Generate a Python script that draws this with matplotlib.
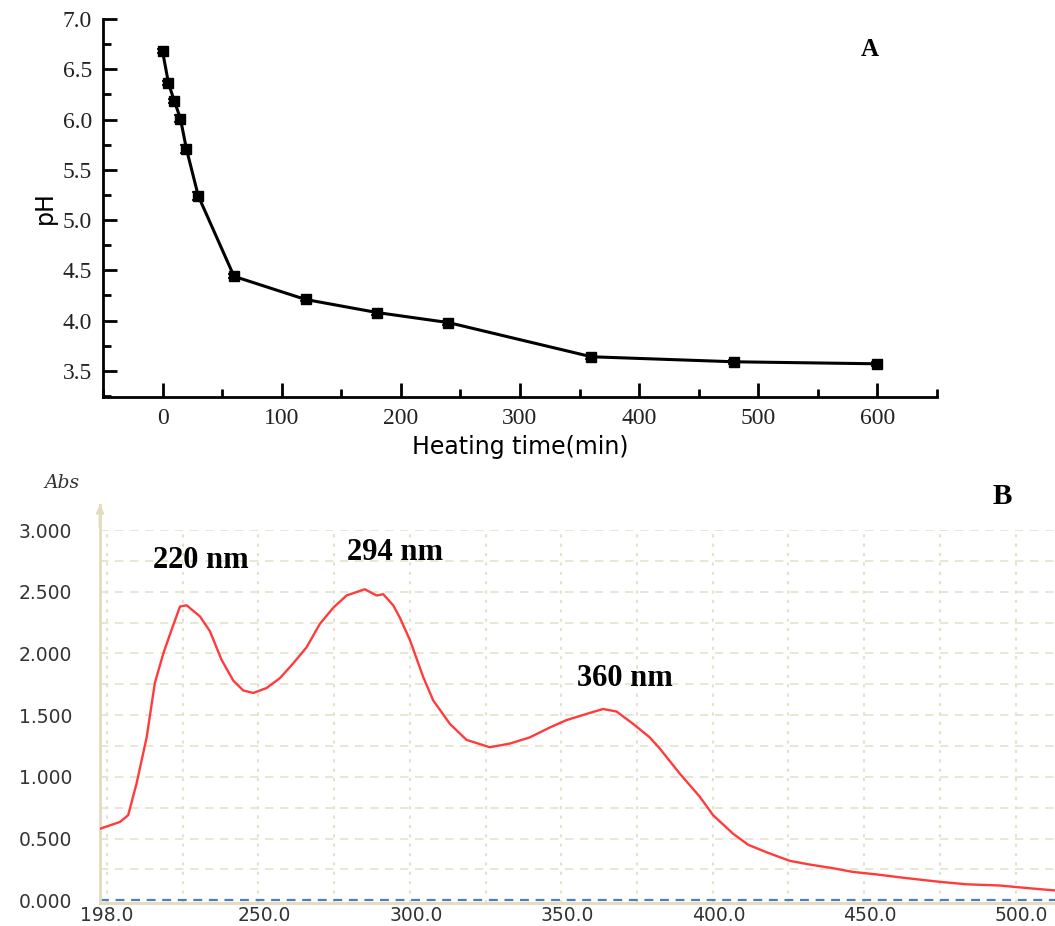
import matplotlib
matplotlib.use("Agg")
import matplotlib.pyplot as plt
from matplotlib.ticker import FixedLocator, MultipleLocator

# panel A: pH vs heating time
heat_time = [0, 5, 10, 15, 20, 30, 60, 120, 180, 240, 360, 480, 600]
ph_value = [6.68, 6.36, 6.18, 6.01, 5.71, 5.24, 4.44, 4.21, 4.08, 3.98, 3.64, 3.59, 3.57]
ph_err = [0.02, 0.02, 0.02, 0.03, 0.04, 0.04, 0.02, 0.02, 0.02, 0.02, 0.02, 0.02, 0.02]

# panel B: UV-vis spectrum
wavelength = [195.7, 202.3, 205.0, 207.8, 211.1, 213.8, 216.6, 219.3, 222.1, 224.3,
              228.7, 232.0, 235.8, 239.7, 243.0, 246.3, 250.7, 255.1, 259.5, 263.9,
              268.3, 272.7, 277.1, 283.1, 287.0, 289.2, 292.5, 294.7, 298.0, 302.4,
              305.7, 311.2, 316.7, 324.4, 331.0, 337.6, 344.2, 349.7, 356.3, 361.8,
              366.2, 371.7, 377.2, 380.5, 387.0, 393.7, 398.1, 404.7, 409.7, 415.7,
              423.4, 430.0, 437.7, 444.3, 452.0, 461.9, 472.9, 481.7, 492.7, 501.5, 511.0]
absorb = [0.58, 0.635, 0.69, 0.95, 1.32, 1.76, 2.00, 2.19, 2.38, 2.39,
          2.30, 2.18, 1.95, 1.78, 1.70, 1.68, 1.72, 1.80, 1.92, 2.05,
          2.24, 2.37, 2.47, 2.52, 2.47, 2.48, 2.39, 2.29, 2.11, 1.81,
          1.62, 1.43, 1.30, 1.24, 1.27, 1.32, 1.40, 1.46, 1.51, 1.55,
          1.53, 1.43, 1.32, 1.23, 1.03, 0.84, 0.69, 0.54, 0.45, 0.39,
          0.32, 0.29, 0.26, 0.23, 0.21, 0.18, 0.15, 0.13, 0.12, 0.10, 0.08]
peak_labels = ["220 nm", "294 nm", "360 nm"]
peak_pos = [(229, 2.75), (293, 2.82), (369, 1.80)]
b_xticks = [198, 250, 300, 350, 400, 450, 500]

fig = plt.figure(figsize=(10.55, 9.26), dpi=100)

# ---- top panel
ax = fig.add_axes([0.0976, 0.5713, 0.7905, 0.4082])
ax.errorbar(heat_time, ph_value, yerr=ph_err, color="black", lw=2.2, marker="s",
            ms=7, capsize=4, elinewidth=1.2, capthick=1.2)
ax.set_xlim(-50, 650)
ax.set_ylim(3.24, 7.0)
ax.xaxis.set_major_locator(MultipleLocator(100))
ax.xaxis.set_minor_locator(MultipleLocator(50))
ax.yaxis.set_major_locator(MultipleLocator(0.5))
ax.yaxis.set_minor_locator(MultipleLocator(0.25))
ax.yaxis.set_major_formatter(matplotlib.ticker.FormatStrFormatter("%.1f"))
for s in ["top", "right"]:
    ax.spines[s].set_visible(False)
for s in ["left", "bottom"]:
    ax.spines[s].set_linewidth(2)
ax.tick_params(which="major", direction="in", length=10, width=2, labelsize=17, pad=8)
ax.tick_params(which="minor", direction="in", length=6, width=2)
for lab in ax.get_xticklabels() + ax.get_yticklabels():
    lab.set_family("Liberation Serif")
    lab.set_color("#222222")
ax.set_xlabel("Heating time(min)", fontsize=17, family="DejaVu Sans", labelpad=4)
ax.set_ylabel("pH", fontsize=17, family="DejaVu Sans", labelpad=4)
ax.text(0.92, 0.918, "A", transform=ax.transAxes, fontsize=18, fontweight="bold",
        family="Liberation Serif", ha="center", va="center")

# ---- bottom panel
beige = "#e2dbbf"
grid_c = "#e6e1cc"
bx = fig.add_axes([0.0948, 0.0248, 0.9052, 0.4028])
bx.plot(wavelength, absorb, color="#ff3b3b", lw=1.7, zorder=3)
bx.axhline(0, color="#4a7fc1", lw=1.6, ls=(0, (4, 3)), zorder=2)
bx.set_xlim(195.7, 511)
bx.set_ylim(-0.022, 3.0)
bx.xaxis.set_major_locator(FixedLocator(b_xticks))
bx.xaxis.set_minor_locator(FixedLocator([198 + 25 * k for k in range(13)]))
bx.yaxis.set_major_locator(MultipleLocator(0.5))
bx.yaxis.set_minor_locator(FixedLocator([0.25 * k for k in range(1, 13)]))
bx.xaxis.remove_overlapping_locs = False
bx.yaxis.remove_overlapping_locs = False
bx.xaxis.set_major_formatter(matplotlib.ticker.FormatStrFormatter("%.1f"))
bx.yaxis.set_major_formatter(matplotlib.ticker.FormatStrFormatter("%.3f"))
bx.grid(False)
bx.grid(which="minor", axis="y", color=grid_c, ls=(0, (5, 4)), lw=1.2, zorder=0)
bx.grid(which="minor", axis="x", color=grid_c, ls=(0, (1.5, 3)), lw=1.5, zorder=0)
for s in ["top", "right"]:
    bx.spines[s].set_visible(False)
for s in ["left", "bottom"]:
    bx.spines[s].set_color(beige)
    bx.spines[s].set_linewidth(2)
bx.spines["left"].set_bounds(-0.022, 3.2)
bx.tick_params(which="both", length=0, labelsize=13.5, labelcolor="#333333")
bx.tick_params(axis="y", pad=20)
bx.tick_params(axis="x", pad=2)
bx.annotate("", xy=(0, 1.075), xytext=(0, 1.0), xycoords="axes fraction",
            arrowprops=dict(arrowstyle="->", color=beige, lw=2), annotation_clip=False)
bx.text(-0.04, 1.126, "Abs", transform=bx.transAxes, fontsize=13.5, style="italic",
        family="DejaVu Serif", color="#333333", ha="center", va="center")
for lab, (px, py) in zip(peak_labels, peak_pos):
    bx.text(px, py, lab, fontsize=22, fontweight="bold", family="Liberation Serif",
            ha="center", va="center", color="black", zorder=4)
bx.text(0.945, 1.09, "B", transform=bx.transAxes, fontsize=21, fontweight="bold",
        family="Liberation Serif", ha="center", va="center")

fig.savefig("out.png", dpi=100)
